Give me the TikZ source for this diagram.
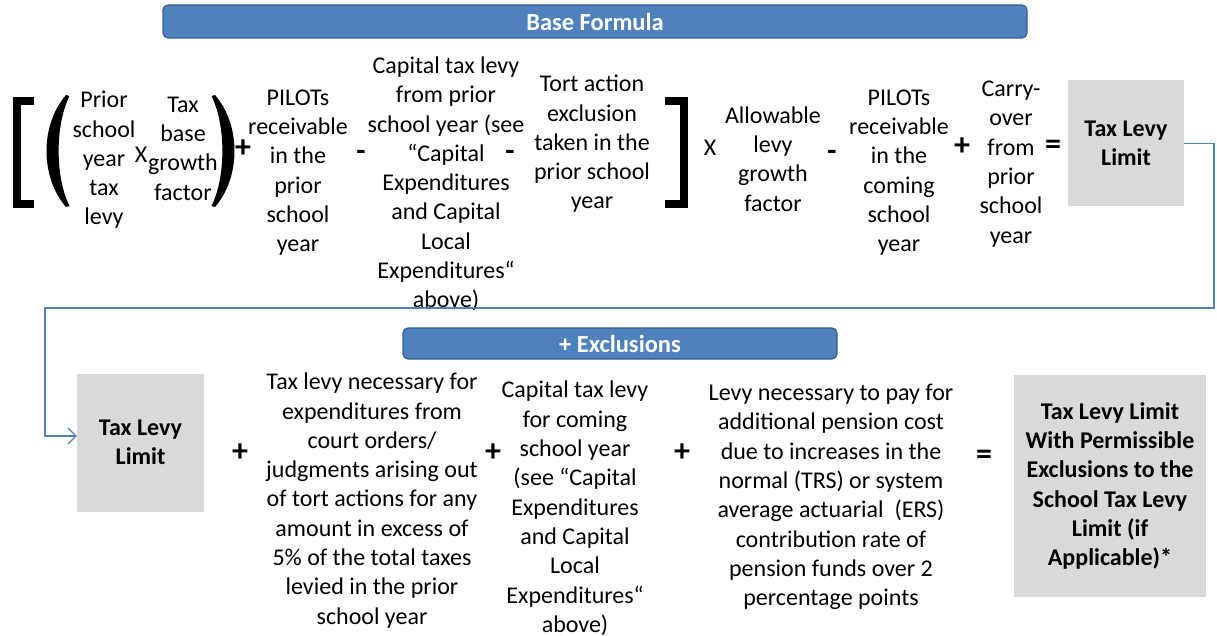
\documentclass[tikz,border=0pt]{standalone}
\usepackage{fontspec}
\setmainfont{Carlito}
\usetikzlibrary{arrows.meta}
\definecolor{bannerfill}{HTML}{4F81BD}
\definecolor{bannerdraw}{HTML}{385D8A}
\definecolor{boxgrey}{HTML}{D9D9D9}
\definecolor{connblue}{HTML}{4F81BD}
\tikzset{
  txt/.style={align=center, inner sep=0pt, yshift=-2.5pt, font=\fontsize{24}{29.3}\selectfont},
  op/.style={inner sep=0pt, font=\fontsize{32}{32}\selectfont\bfseries},
  opm/.style={inner sep=0pt, text height=11pt, text depth=-5pt, font=\fontsize{30}{30}\selectfont\bfseries},
  opx/.style={inner sep=0pt, font=\fontsize{24}{24}\selectfont},
  greybox/.style={fill=boxgrey, draw=none, align=center, inner sep=0pt,
    font=\fontsize{24}{29.3}\selectfont\bfseries},
  banner/.style={fill=bannerfill, draw=bannerdraw, line width=1.2pt, rounded corners=5pt,
    text=white, font=\fontsize{24.5}{26}\selectfont\bfseries, inner sep=0pt},
  brack/.style={line width=7.5pt, line join=miter, line cap=butt},
  conn/.style={draw=connblue, line width=1.2pt},
}
\begin{document}
\begin{tikzpicture}[x=1pt,y=-1pt]
\useasboundingbox (0,0) rectangle (1217,636);
% banners
\node[banner, minimum width=864pt, minimum height=33pt] (bf) at (595,21.5) {Base Formula};
\node[banner, minimum width=434pt, minimum height=31pt] (ex) at (620,343.5) {+ Exclusions};

% brackets and parentheses
\draw[brack] (34,101) -- (17,101) -- (17,204) -- (34,204);
\draw[brack] (665,101) -- (684,101) -- (684,204) -- (665,204);
\fill (66,95) .. controls (40,125) and (40,177) .. (66,207) -- (69.5,206) .. controls (55,177) and (55,125) .. (69.5,96) -- cycle;
\fill (215,95) .. controls (241,125) and (241,177) .. (215,207) -- (211.5,206) .. controls (226,177) and (226,125) .. (211.5,96) -- cycle;

% top row
\node[txt] (a1) at (104,157.5) {Prior\\school\\year\\tax\\levy};
\node[opx] (x1) at (141,155) {X};
\node[txt] (a2) at (183,146) {Tax\\base\\growth\\factor};
\node[op] (p1) at (243,149) {+};
\node[txt] (a3) at (298,170) {PILOTs\\receivable\\in the\\prior\\school\\year};
\node[opm] (m1) at (361,155) {-};
\node[txt] (a4) at (446,181.5) {Capital tax levy\\from prior\\school year (see\\``Capital\\Expenditures\\and Capital\\Local\\Expenditures``\\above)};
\node[opm] (m2) at (510,155) {-};
\node[txt] (a5) at (592,141.5) {Tort action\\exclusion\\taken in the\\prior school\\year};
\node[opx] (x2) at (710,148) {X};
\node[txt] (a6) at (773,156.5) {Allowable\\levy\\growth\\factor};
\node[opm] (m3) at (832,155) {-};
\node[txt] (a7) at (899,170) {PILOTs\\receivable\\in the\\coming\\school\\year};
\node[op] (p2) at (962,147) {+};
\node[txt] (a8) at (1011,161.5) {Carry-\\over\\from\\prior\\school\\year};
\node[op] (e1) at (1053,147) {=};
\node[greybox, minimum width=116pt, minimum height=126pt] (box1) at (1126,143.5) {Tax Levy\\Limit};

% bottom row
\node[greybox, minimum width=127pt, minimum height=138pt] (box2) at (140.5,442.5) {Tax Levy\\Limit};
\node[op] (p3) at (240,453) {+};
\node[txt] (b1) at (372,498) {Tax levy necessary for\\expenditures from\\court orders/\\judgments arising out\\of tort actions for any\\amount in excess of\\5\% of the total taxes\\levied in the prior\\school year};
\node[op] (p4) at (493,453) {+};
\node[txt] (b2) at (575,506) {Capital tax levy\\for coming\\school year\\(see ``Capital\\Expenditures\\and Capital\\Local\\Expenditures``\\above)};
\node[op] (p5) at (682,453) {+};
\node[txt] (b3) at (831,494.5) {Levy necessary to pay for\\additional pension cost\\due to increases in the\\normal (TRS) or system\\average actuarial~ (ERS)\\contribution rate of\\pension funds over 2\\percentage points};
\node[op] (e2) at (984,457) {=};
\node[greybox, minimum width=192pt, minimum height=222pt] (box3) at (1110,486) {Tax Levy Limit\\With Permissible\\Exclusions to the\\School Tax Levy\\Limit (if\\Applicable)*};

% connector
\coordinate (c1) at (1214,143.5);
\coordinate (c2) at (1214,308);
\coordinate (c3) at (45,308);
\coordinate (c4) at (45,436);
\draw[conn, -{Straight Barb[length=8pt,width=16pt]}] (box1.east) -- (c1) -- (c2) -- (c3) -- (c4) -- (box2.west |- c4);
\end{tikzpicture}
\end{document}
